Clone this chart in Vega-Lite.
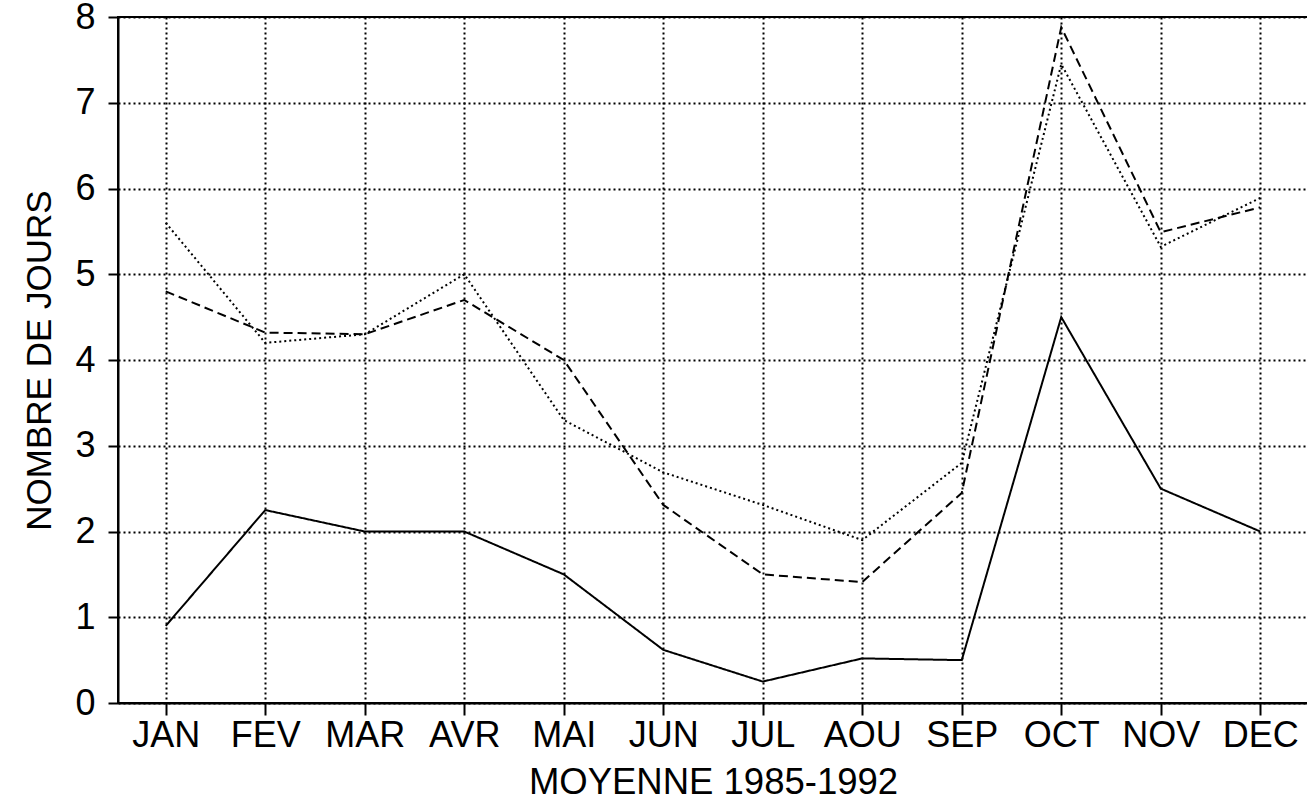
{
  "$schema": "https://vega.github.io/schema/vega-lite/v6.json",
  "width": 1190,
  "height": 686,
  "autosize": {"type": "none"},
  "padding": {"left": 118, "top": 17, "right": 0, "bottom": 98},
  "background": "white",
  "config": {
    "font": "Liberation Sans",
    "view": {"stroke": "black", "strokeWidth": 2},
    "axis": {
      "domainColor": "black",
      "domainWidth": 2,
      "tickColor": "black",
      "tickWidth": 2,
      "gridColor": "black",
      "gridOpacity": 1,
      "gridWidth": 2,
      "gridDash": [2, 3],
      "labelColor": "black",
      "titleColor": "black",
      "labelFontSize": 36,
      "titleFontSize": 35,
      "titleFontWeight": "normal",
      "labelFont": "Liberation Sans",
      "titleFont": "Liberation Sans",
      "labelOverlap": false
    }
  },
  "data": {
    "values": [
      {"mois": "JAN", "serie": "A", "valeur": 0.9},
      {"mois": "FEV", "serie": "A", "valeur": 2.25},
      {"mois": "MAR", "serie": "A", "valeur": 2.0},
      {"mois": "AVR", "serie": "A", "valeur": 2.0},
      {"mois": "MAI", "serie": "A", "valeur": 1.5},
      {"mois": "JUN", "serie": "A", "valeur": 0.62},
      {"mois": "JUL", "serie": "A", "valeur": 0.25},
      {"mois": "AOU", "serie": "A", "valeur": 0.52},
      {"mois": "SEP", "serie": "A", "valeur": 0.5},
      {"mois": "OCT", "serie": "A", "valeur": 4.5},
      {"mois": "NOV", "serie": "A", "valeur": 2.5},
      {"mois": "DEC", "serie": "A", "valeur": 2.0},
      {"mois": "JAN", "serie": "B", "valeur": 4.8},
      {"mois": "FEV", "serie": "B", "valeur": 4.32},
      {"mois": "MAR", "serie": "B", "valeur": 4.3},
      {"mois": "AVR", "serie": "B", "valeur": 4.7},
      {"mois": "MAI", "serie": "B", "valeur": 4.0},
      {"mois": "JUN", "serie": "B", "valeur": 2.31},
      {"mois": "JUL", "serie": "B", "valeur": 1.5},
      {"mois": "AOU", "serie": "B", "valeur": 1.41},
      {"mois": "SEP", "serie": "B", "valeur": 2.45},
      {"mois": "OCT", "serie": "B", "valeur": 7.88},
      {"mois": "NOV", "serie": "B", "valeur": 5.49},
      {"mois": "DEC", "serie": "B", "valeur": 5.78},
      {"mois": "JAN", "serie": "C", "valeur": 5.6},
      {"mois": "FEV", "serie": "C", "valeur": 4.2},
      {"mois": "MAR", "serie": "C", "valeur": 4.3},
      {"mois": "AVR", "serie": "C", "valeur": 5.0},
      {"mois": "MAI", "serie": "C", "valeur": 3.3},
      {"mois": "JUN", "serie": "C", "valeur": 2.69},
      {"mois": "JUL", "serie": "C", "valeur": 2.31},
      {"mois": "AOU", "serie": "C", "valeur": 1.9},
      {"mois": "SEP", "serie": "C", "valeur": 2.8},
      {"mois": "OCT", "serie": "C", "valeur": 7.45},
      {"mois": "NOV", "serie": "C", "valeur": 5.32},
      {"mois": "DEC", "serie": "C", "valeur": 5.89}
    ]
  },
  "mark": {"type": "line", "color": "black", "strokeWidth": 2},
  "encoding": {
    "x": {
      "field": "mois",
      "type": "ordinal",
      "sort": ["JAN", "FEV", "MAR", "AVR", "MAI", "JUN", "JUL", "AOU", "SEP", "OCT", "NOV", "DEC"],
      "scale": {"type": "point", "padding": 0.48},
      "axis": {
        "title": "MOYENNE 1985-1992",
        "titleFontSize": 36.5,
        "labelAngle": 0,
        "grid": true,
        "tickSize": 12,
        "labelPadding": 20,
        "labelBaseline": "middle",
        "titleBaseline": "middle",
        "titleY": 79
      }
    },
    "y": {
      "field": "valeur",
      "type": "quantitative",
      "scale": {"domain": [0, 8], "nice": false},
      "axis": {
        "title": "NOMBRE DE JOURS",
        "values": [0, 1, 2, 3, 4, 5, 6, 7, 8],
        "grid": true,
        "tickSize": 10,
        "labelPadding": 13,
        "labelFlush": false,
        "titleX": -79,
        "titleY": 343,
        "titleBaseline": "middle"
      }
    },
    "strokeDash": {
      "field": "serie",
      "type": "nominal",
      "scale": {"domain": ["A", "B", "C"], "range": [[1, 0], [9, 5], [2, 3]]},
      "legend": null
    }
  }
}
